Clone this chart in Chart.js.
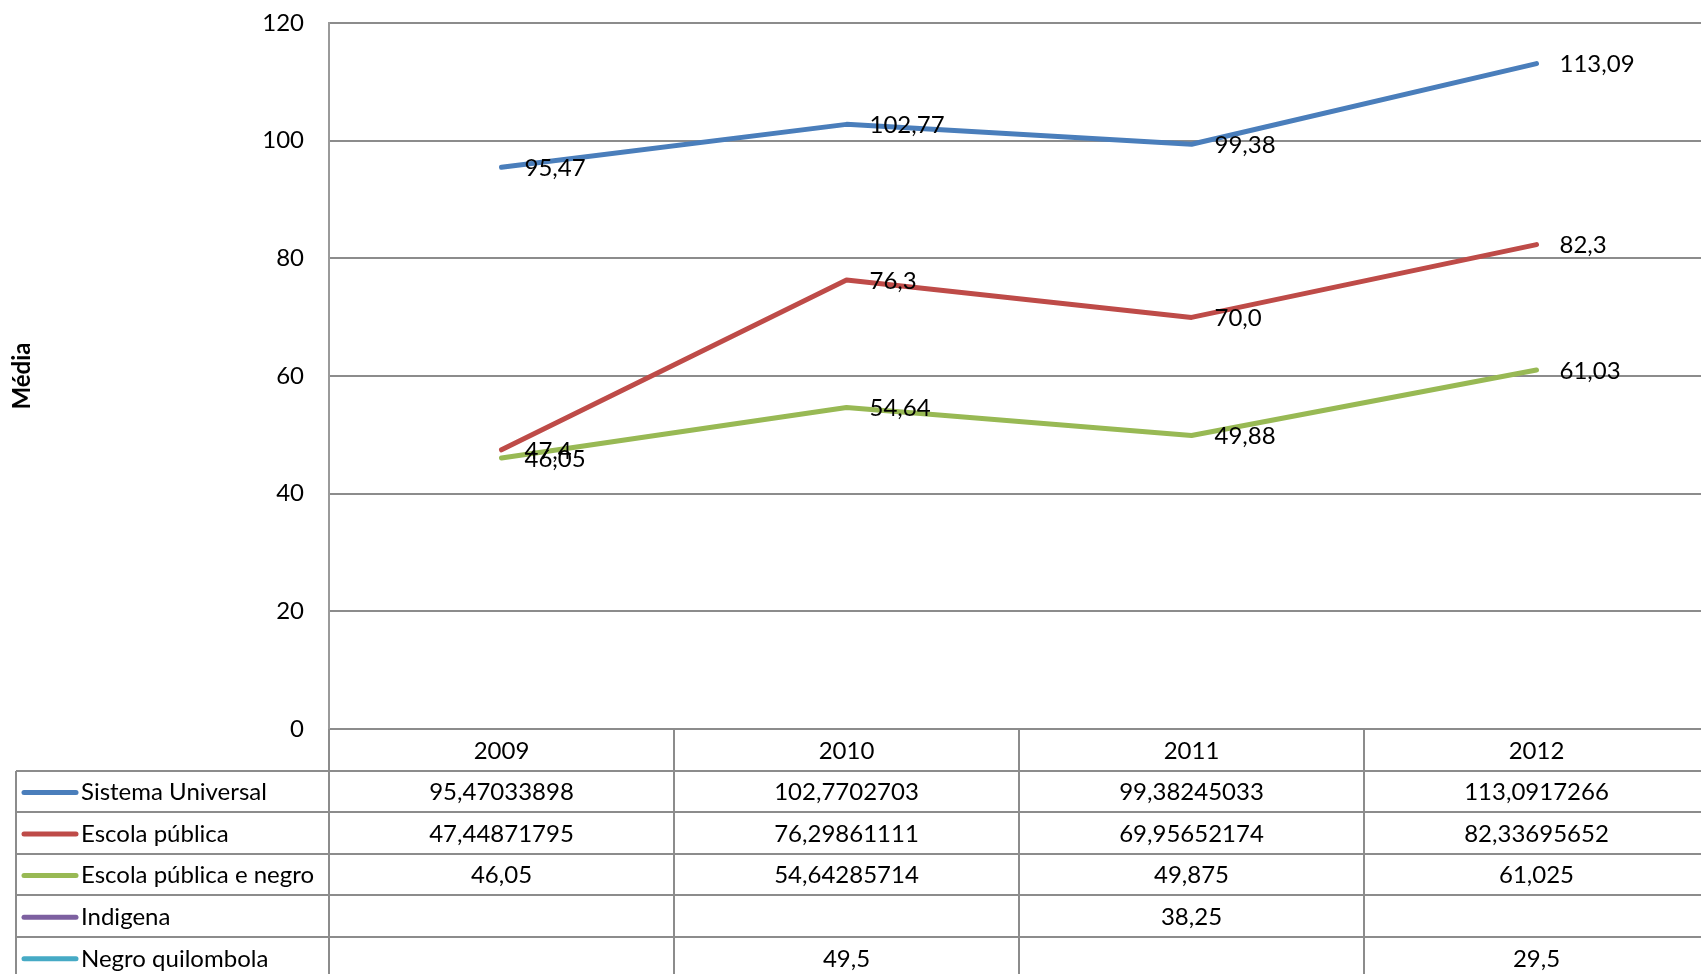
<!DOCTYPE html>
<html>
<head>
<meta charset="utf-8">
<script src="https://cdn.jsdelivr.net/npm/chart.js@4"></script>
<style>
html, body { margin: 0; padding: 0; background: #fff; overflow: hidden; }
#wrap { position: relative; width: 1710px; height: 974px; }
</style>
</head>
<body>
<div id="wrap"><canvas id="graficoMedias"></canvas></div>
<script>
const anos = ['2009', '2010', '2011', '2012'];
const nomesSeries = ['Sistema Universal', 'Escola pública', 'Escola pública e negro', 'Indigena', 'Negro quilombola'];
const sistemaUniversal = [95.47033898, 102.7702703, 99.38245033, 113.0917266];
const escolaPublica = [47.44871795, 76.29861111, 69.95652174, 82.33695652];
const escolaPublicaNegro = [46.05, 54.64285714, 49.875, 61.025];
const indigena = [null, null, 38.25, null];
const negroQuilombola = [null, 49.5, null, 29.5];
const casasDecimais = [2, 1, 2, null, null];
const eixoY = { min: 0, max: 120, passo: 20 };

const cores = ['#4A7EBB', '#BE4B48', '#98B954', '#7D60A0', '#46AAC5'];
const valores = [sistemaUniversal, escolaPublica, escolaPublicaNegro, indigena, negroQuilombola];
const fonte = 'Lato, "Open Sans", sans-serif';

function virgula(v) {
    return String(v).replace('.', ',');
}

const rotulosPlugin = {
    id: 'rotulos',
    afterDatasetsDraw(chart) {
        const ctx = chart.ctx;
        ctx.save();
        ctx.font = '24px ' + fonte;
        ctx.fillStyle = '#000';
        ctx.textAlign = 'left';
        ctx.textBaseline = 'middle';
        chart.data.datasets.forEach((ds, i) => {
            if (casasDecimais[i] === null) return;
            chart.getDatasetMeta(i).data.forEach((pt, j) => {
                const v = ds.data[j];
                if (v === null) return;
                const txt = (v + 1e-9).toFixed(casasDecimais[i]).replace('.', ',');
                ctx.fillText(txt, pt.x + 23, pt.y + 1);
            });
        });
        ctx.restore();
    }
};

const tabelaPlugin = {
    id: 'tabela',
    afterDraw(chart) {
        const ctx = chart.ctx;
        const x = chart.scales.x;
        const area = chart.chartArea;
        const passo = x.getPixelForValue(1) - x.getPixelForValue(0);
        const inicio = x.getPixelForValue(0) - passo / 2;
        const altLinha = 41.6;
        const topo = area.bottom;
        const fundo = chart.height;
        const esquerda = 16;

        ctx.save();
        ctx.strokeStyle = '#8c8c8c';
        ctx.lineWidth = 2;
        ctx.beginPath();
        for (let i = 0; i <= anos.length; i++) {
            const bx = Math.round(inicio + i * passo);
            ctx.moveTo(bx, topo);
            ctx.lineTo(bx, fundo);
        }
        for (let r = 1; r <= nomesSeries.length + 1; r++) {
            const y = Math.round(topo + r * altLinha);
            ctx.moveTo(esquerda, y);
            ctx.lineTo(area.right, y);
        }
        ctx.moveTo(esquerda, Math.round(topo + altLinha));
        ctx.lineTo(esquerda, fundo);
        ctx.stroke();

        ctx.font = '24px ' + fonte;
        ctx.fillStyle = '#000';
        ctx.textBaseline = 'middle';
        ctx.textAlign = 'center';
        anos.forEach((a, i) => {
            ctx.fillText(a, x.getPixelForValue(i), topo + altLinha / 2 + 1);
        });

        nomesSeries.forEach((nome, r) => {
            const cy = topo + (r + 1.5) * altLinha + 1;
            ctx.strokeStyle = cores[r];
            ctx.lineWidth = 5;
            ctx.lineCap = 'round';
            ctx.beginPath();
            ctx.moveTo(24, cy);
            ctx.lineTo(76, cy);
            ctx.stroke();
            ctx.textAlign = 'left';
            ctx.fillText(nome, 81, cy);
            ctx.textAlign = 'center';
            valores[r].forEach((v, i) => {
                if (v === null) return;
                ctx.fillText(virgula(v), x.getPixelForValue(i), cy);
            });
        });
        ctx.restore();
    }
};

document.addEventListener('DOMContentLoaded', function() {
    const canvas = document.getElementById('graficoMedias');
    const ctx = canvas.getContext('2d');
    new Chart(ctx, {
        type: 'line',
        data: {
            labels: anos,
            datasets: nomesSeries.map((nome, i) => ({
                label: nome,
                data: valores[i],
                borderColor: cores[i],
                backgroundColor: cores[i],
                borderWidth: 5,
                // pontos isolados (sem vizinhos) não devem aparecer
                borderCapStyle: casasDecimais[i] === null ? 'butt' : 'round',
                borderJoinStyle: 'round',
                pointRadius: 0,
                tension: 0,
                spanGaps: false
            }))
        },
        options: {
            responsive: true,
            maintainAspectRatio: false,
            animation: false,
            layout: { padding: { top: 23, bottom: 245, left: 0, right: 1 } },
            plugins: {
                legend: { display: false },
                tooltip: { enabled: false }
            },
            scales: {
                x: {
                    display: false,
                    offset: true
                },
                y: {
                    min: eixoY.min,
                    max: eixoY.max,
                    afterFit: (s) => {
                        s.width = 329;
                        s.paddingTop = 0;
                        s.paddingBottom = 0;
                    },
                    ticks: {
                        stepSize: eixoY.passo,
                        color: '#000',
                        padding: 25,
                        font: { family: fonte, size: 24 }
                    },
                    grid: { color: '#8c8c8c', lineWidth: 2, drawTicks: false },
                    border: { color: '#9a9a9a', width: 2 },
                    title: {
                        display: true,
                        text: 'Média',
                        color: '#000',
                        padding: { top: 8, bottom: 0 },
                        font: { family: fonte, size: 24, weight: 'bold' }
                    }
                }
            }
        },
        plugins: [rotulosPlugin, tabelaPlugin]
    });
});
</script>
</body>
</html>
